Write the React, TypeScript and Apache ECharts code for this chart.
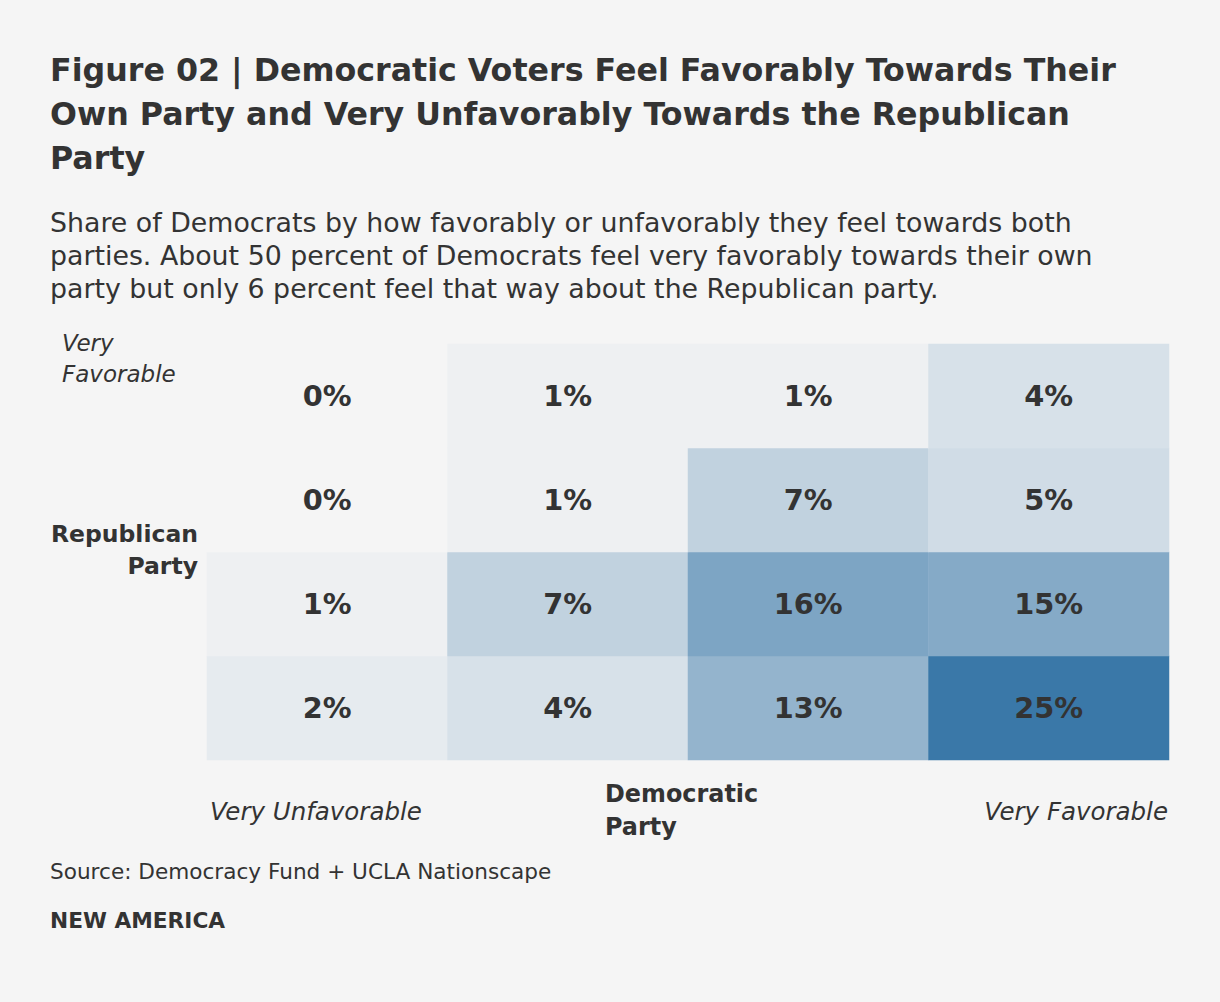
import React, { useEffect, useRef } from "react";
import * as echarts from "echarts";

const demCategories = ["Very Unfavorable", "Somewhat Unfavorable", "Somewhat Favorable", "Very Favorable"];
const repCategories = ["Very Unfavorable", "Somewhat Unfavorable", "Somewhat Favorable", "Very Favorable"];
// rows by Republican favorability, values across Democratic favorability
const repVeryFavorable = [0, 1, 1, 4];
const repSomewhatFavorable = [0, 1, 7, 5];
const repSomewhatUnfavorable = [1, 7, 16, 15];
const repVeryUnfavorable = [2, 4, 13, 25];

const titleLines = [
  "Figure 02 | Democratic Voters Feel Favorably Towards Their",
  "Own Party and Very Unfavorably Towards the Republican",
  "Party",
];
const subtitleLines = [
  "Share of Democrats by how favorably or unfavorably they feel towards both",
  "parties. About 50 percent of Democrats feel very favorably towards their own",
  "party but only 6 percent feel that way about the Republican party.",
];
const sourceText = "Source: Democracy Fund + UCLA Nationscape";
const brandText = "NEW AMERICA";

const FONT = "'DejaVu Sans'";
const INK = "#333333";

function txt(x: number, y: number, text: string, font: string, align = "left", lineHeight?: number) {
  const style: any = { text, font, fill: INK, align, verticalAlign: "middle" };
  if (lineHeight) style.lineHeight = lineHeight;
  return { type: "text", x, y, style };
}

export default function App() {
  const ref = useRef<HTMLDivElement>(null);
  useEffect(() => {
    document.body.style.margin = "0";
    document.body.style.background = "#f5f5f5";
    const chart = echarts.init(ref.current!, null, { renderer: "svg" });
    const rows = [repVeryUnfavorable, repSomewhatUnfavorable, repSomewhatFavorable, repVeryFavorable];
    const data: number[][] = [];
    rows.forEach((row, yi) => row.forEach((v, xi) => data.push([xi, yi, v])));

    const graphic: any[] = [
      txt(50, 114, titleLines.join("\n"), `bold 31.7px ${FONT}`, "left", 44),
      txt(50, 255.5, subtitleLines.join("\n"), `26.8px ${FONT}`, "left", 33),
      txt(62, 358.5, "Very\nFavorable", `italic 23px ${FONT}`, "left", 31.5),
      txt(198, 550, "Republican\nParty", `bold 23.5px ${FONT}`, "right", 32),
      txt(210, 811, "Very Unfavorable", `italic 24.5px ${FONT}`),
      txt(605, 810, "Democratic\nParty", `bold 23.9px ${FONT}`, "left", 33),
      txt(1168, 811, "Very Favorable", `italic 24.5px ${FONT}`, "right"),
      txt(50, 871, sourceText, `21.6px ${FONT}`),
      txt(50, 920, brandText, `bold 21.7px ${FONT}`),
    ];

    chart.setOption({
      animation: false,
      backgroundColor: "#f5f5f5",
      grid: { left: 207, top: 344, width: 962, height: 416 },
      xAxis: {
        type: "category",
        data: demCategories,
        axisLine: { show: false },
        axisTick: { show: false },
        axisLabel: { show: false },
        splitLine: { show: false },
      },
      yAxis: {
        type: "category",
        data: repCategories,
        axisLine: { show: false },
        axisTick: { show: false },
        axisLabel: { show: false },
        splitLine: { show: false },
      },
      visualMap: {
        show: false,
        min: 0,
        max: 25,
        dimension: 2,
        inRange: { color: ["#f5f5f5", "#3a78a8"] },
      },
      series: [
        {
          type: "heatmap",
          data,
          label: {
            show: true,
            formatter: (p: any) => `${p.value[2]}%`,
            fontFamily: FONT,
            fontWeight: "bold",
            fontSize: 28.8,
            color: INK,
          },
          emphasis: { disabled: true },
        },
      ],
      graphic,
    });
    return () => chart.dispose();
  }, []);
  return <div ref={ref} style={{ width: 1220, height: 1002 }} />;
}
